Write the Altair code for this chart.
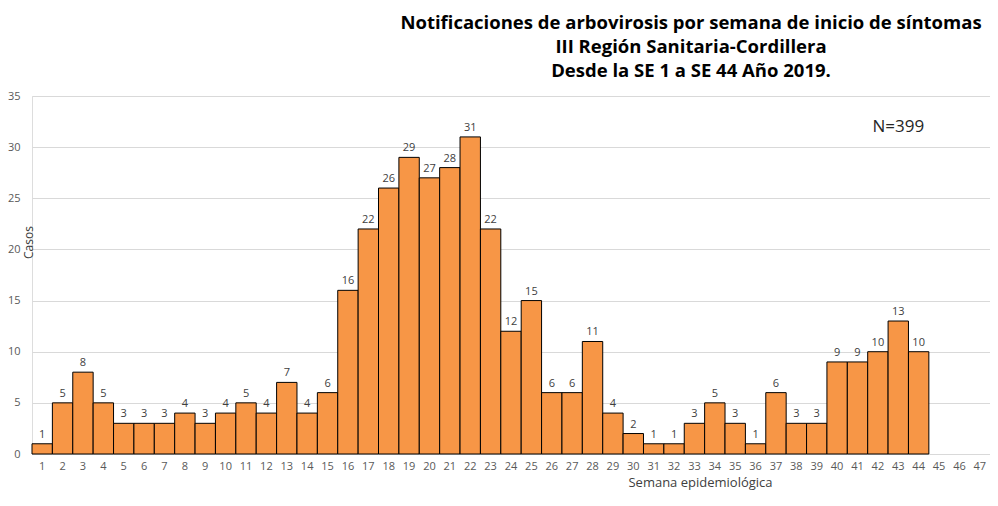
import altair as alt
import pandas as pd

weeks = [str(i) for i in range(1, 48)]
case_weeks = [str(i) for i in range(1, 45)]
cases = [1, 5, 8, 5, 3, 3, 3, 4, 3, 4,
         5, 4, 7, 4, 6, 16, 22, 26, 29, 27,
         28, 31, 22, 12, 15, 6, 6, 11, 4, 2,
         1, 1, 3, 5, 3, 1, 6, 3, 3, 9,
         9, 10, 13, 10]
title_lines = ["Notificaciones de arbovirosis por semana de inicio de síntomas",
               "III Región Sanitaria-Cordillera",
               "Desde la SE 1 a SE 44 Año 2019."]
note_text = ["N=399"]
note_week = ["43"]
note_value = [32]

df = pd.DataFrame({"semana": case_weeks, "casos": cases})
note_df = pd.DataFrame({"semana": note_week, "casos": note_value, "txt": note_text})

FONT = "Open Sans"

xscale = alt.Scale(domain=weeks, paddingInner=0, paddingOuter=0)
yscale = alt.Scale(domain=[0, 35])

base = alt.Chart(df)

bars = base.mark_bar(color="#F79646", stroke="#000000", strokeWidth=1).encode(
    x=alt.X("semana:N", scale=xscale, sort=weeks,
            axis=alt.Axis(title="Semana epidemiológica", labelAngle=0, ticks=False,
                          domain=True, domainColor="#d9d9d9", labelPadding=6,
                          labelFont=FONT, labelFontSize=11, labelColor="#595959",
                          titleFont=FONT, titleFontSize=13, titleFontWeight="normal",
                          titleColor="#404040", titlePadding=5, titleX=668,
                          titleAlign="center")),
    y=alt.Y("casos:Q", scale=yscale,
            axis=alt.Axis(title="Casos", values=[0, 5, 10, 15, 20, 25, 30, 35],
                          ticks=False, domain=False, grid=True, gridColor="#d9d9d9",
                          labelPadding=12, labelFont=FONT, labelFontSize=11,
                          labelColor="#595959", titleFont=FONT, titleFontSize=12,
                          titleFontWeight="normal", titleColor="#404040",
                          titleX=3, titleY=146, titleAngle=270,
                          titleBaseline="bottom", titleAlign="center")),
)

labels = base.mark_text(dy=-9, font=FONT, fontSize=11, color="#404040").encode(
    x=alt.X("semana:N", scale=xscale, sort=weeks),
    y=alt.Y("casos:Q", scale=yscale),
    text="casos:Q",
)

note = alt.Chart(note_df).mark_text(font=FONT, fontSize=17, color="#262626",
                                    baseline="middle").encode(
    x=alt.X("semana:N", scale=xscale, sort=weeks),
    y=alt.Y("casos:Q", scale=yscale),
    text="txt:N",
)

chart = alt.layer(bars, labels, note).properties(
    width=958,
    height=358,
    title=alt.TitleParams(text=title_lines, font=FONT, fontSize=18.5, fontWeight="bold",
                          color="#000000", lineHeight=24, anchor="middle", dx=180,
                          offset=10),
    autosize=alt.AutoSizeParams(type="none"),
    padding={"left": 24, "top": 88, "right": 0, "bottom": 44},
).configure_view(stroke=None).configure(background="white")

chart.save("out.html", embed_options={"renderer": "svg", "actions": False})
